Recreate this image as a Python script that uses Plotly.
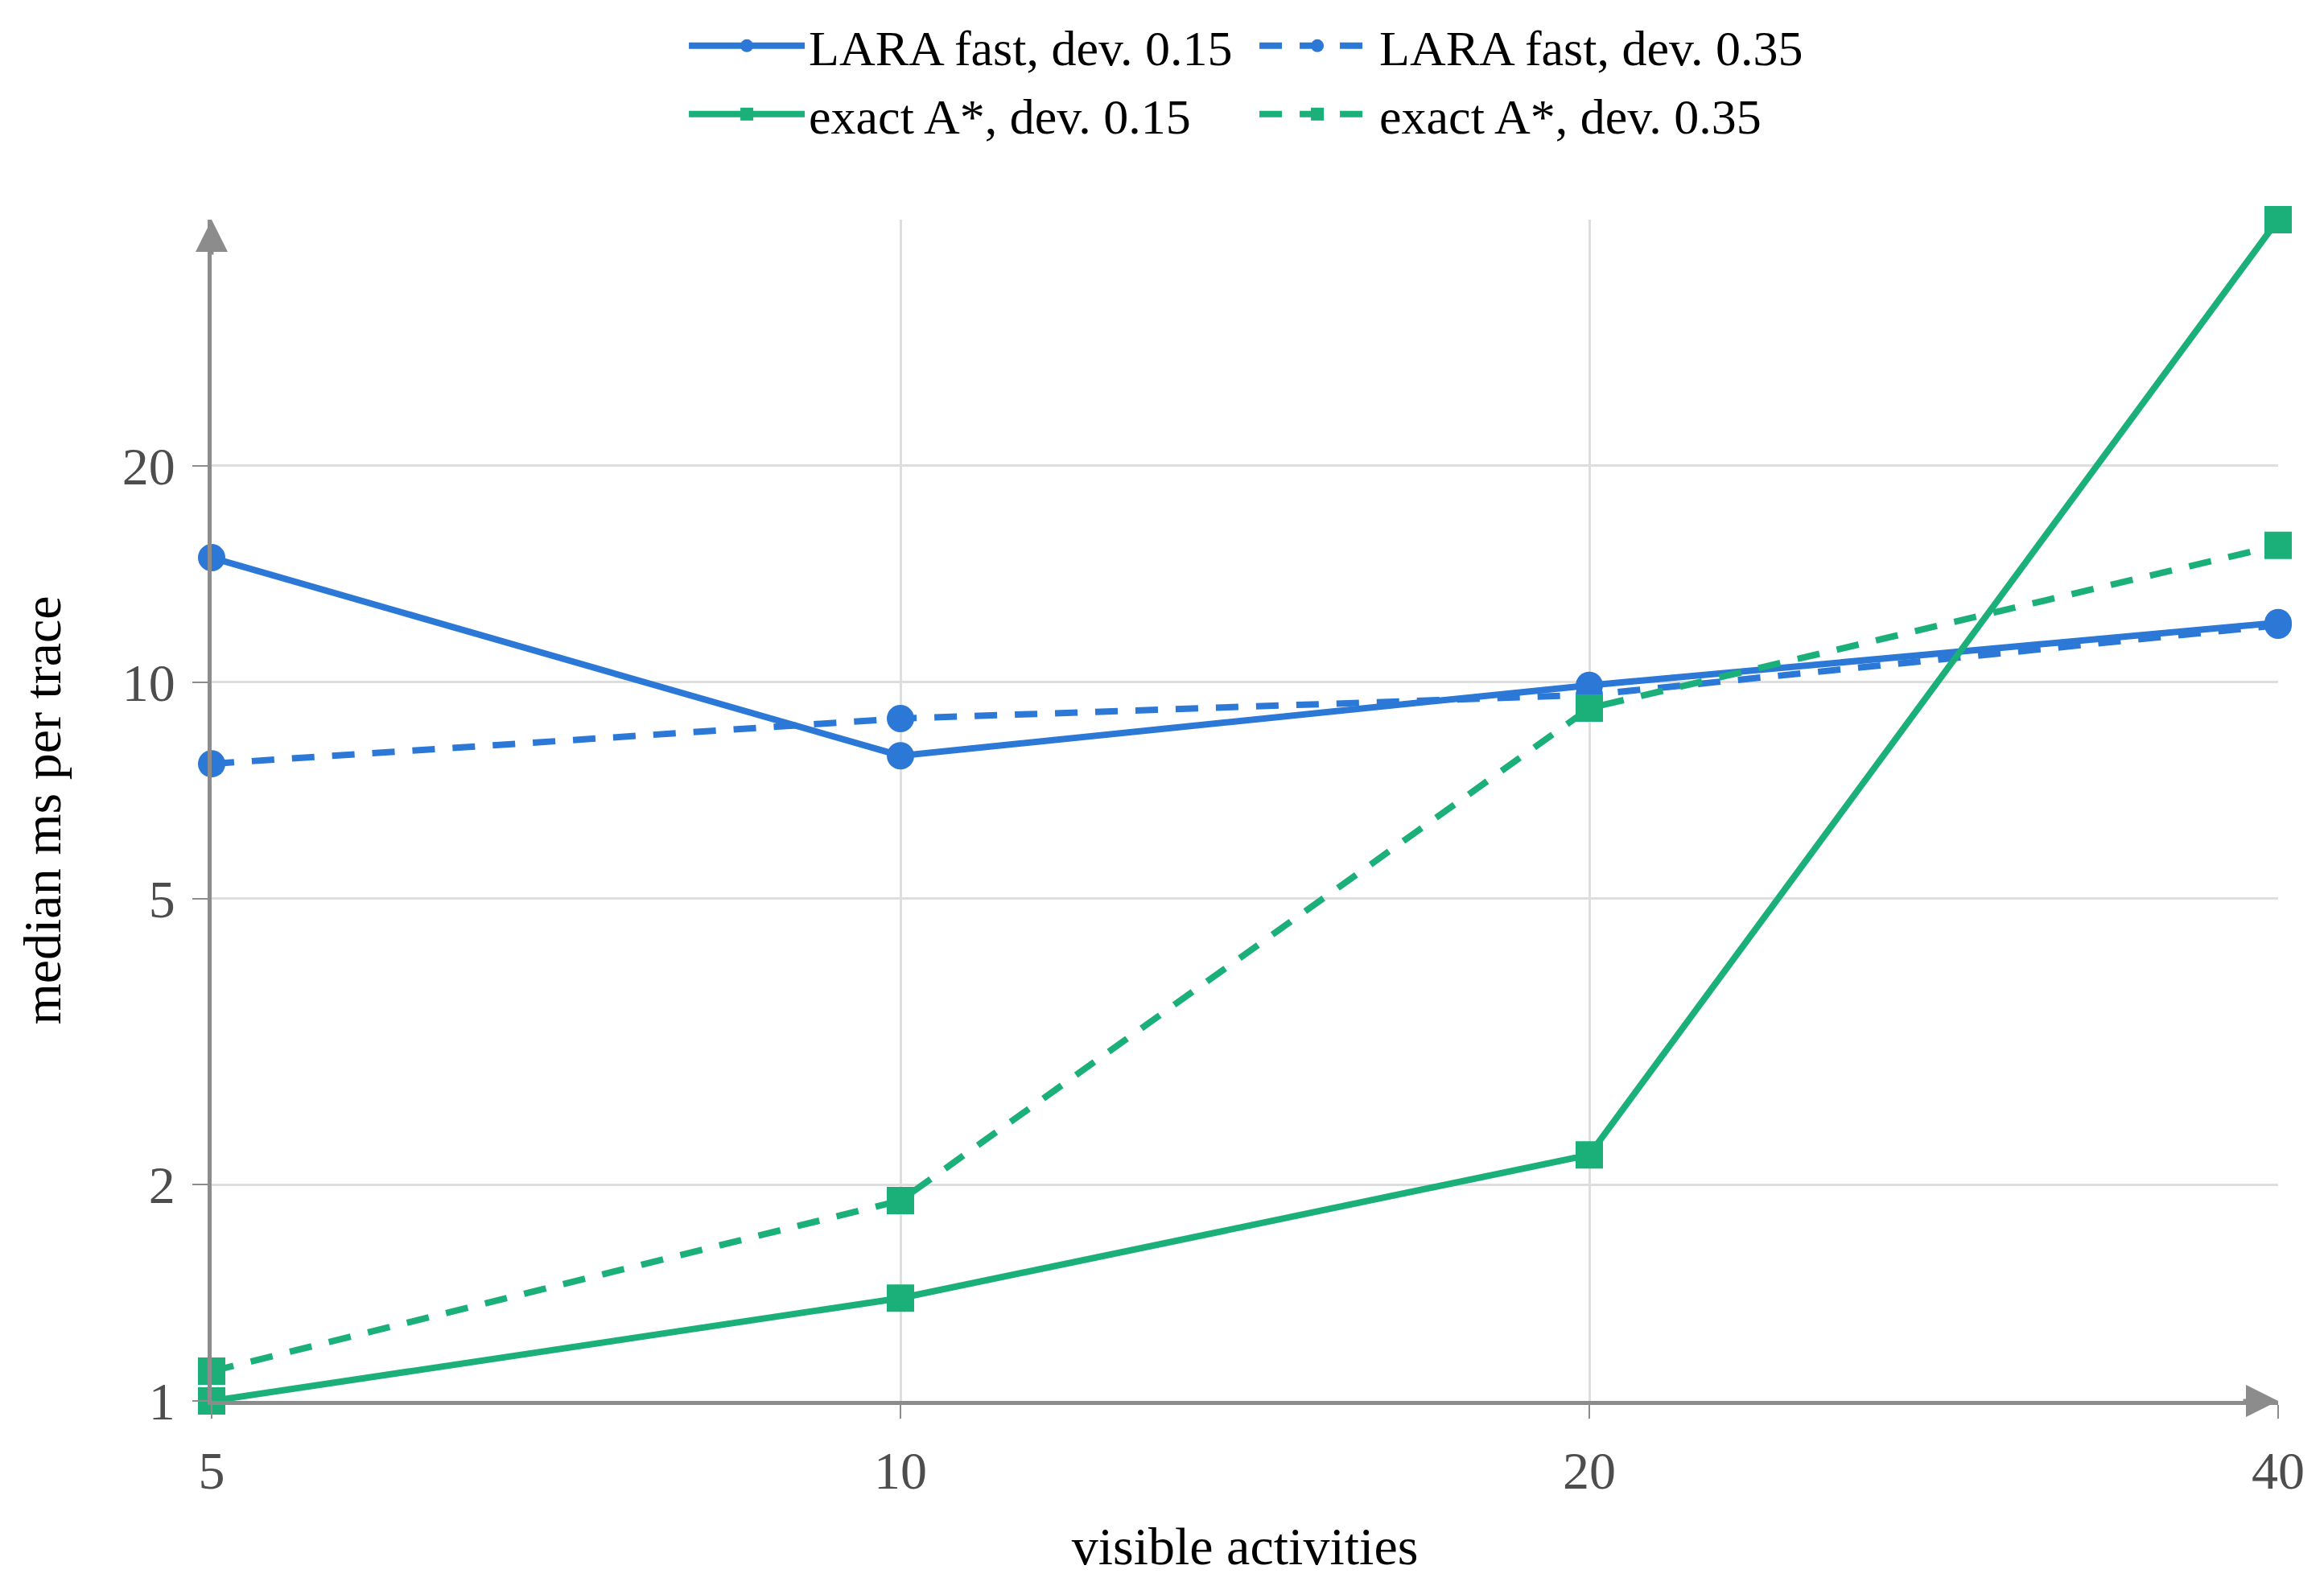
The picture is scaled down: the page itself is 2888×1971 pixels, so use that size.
import plotly.graph_objects as go
import math

activities = [5, 10, 20, 40]
lara_015 = [14.9, 7.9, 9.9, 12.1]
lara_035 = [7.7, 8.9, 9.6, 12.0]
astar_015 = [1.0, 1.39, 2.2, 44.0]
astar_035 = [1.10, 1.90, 9.2, 15.5]

x_ticks = [5, 10, 20, 40]
y_ticks = [1, 2, 5, 10, 20]

BLUE = "rgb(43,120,214)"
GREEN = "rgb(27,176,122)"
AXIS = "rgb(140,140,140)"
GRID = "rgb(222,222,222)"
TICKC = "rgb(77,77,77)"
FONT = "Liberation Serif"
FS_LEG = 62
FS_TICK = 66
FS_TITLE = 66

series = [
    ("LARA fast, dev. 0.15", lara_015, BLUE, "solid", "circle", "legend"),
    ("LARA fast, dev. 0.35", lara_035, BLUE, "28px,22px", "circle", "legend"),
    ("exact A*, dev. 0.15", astar_015, GREEN, "solid", "square", "legend2"),
    ("exact A*, dev. 0.35", astar_035, GREEN, "28px,22px", "square", "legend2"),
]

fig = go.Figure()
for name, vals, col, dash, sym, leg in series:
    fig.add_trace(go.Scatter(
        x=activities, y=vals, name=name, mode="lines+markers",
        line=dict(color=col, width=8, dash=dash),
        marker=dict(color=col, size=34, symbol=sym),
        cliponaxis=False, legend=leg,
    ))

ymax = max(max(s[1]) for s in series)
eps = 1e-6

leg_common = dict(orientation="h", x=0.229, xanchor="left", yanchor="middle",
                  yref="container", entrywidth=550, entrywidthmode="pixels",
                  font=dict(size=FS_LEG, family=FONT), itemwidth=144,
                  bgcolor="rgba(0,0,0,0)")

fig.update_layout(
    width=2888, height=1971,
    margin=dict(l=263, r=57, t=273, b=230),
    paper_bgcolor="white", plot_bgcolor="white",
    font=dict(family=FONT, size=FS_LEG, color="black"),
    legend=dict(y=1 - 57 / 1971, **leg_common),
    legend2=dict(y=1 - 142 / 1971, **leg_common),
    xaxis=dict(type="log",
               range=[math.log10(min(activities)) - eps, math.log10(max(activities)) + eps],
               tickvals=x_ticks, ticktext=[str(v) for v in x_ticks],
               showline=True, linecolor=AXIS, linewidth=5,
               showgrid=True, gridcolor=GRID, gridwidth=3,
               ticks="outside", ticklen=17, tickwidth=2, tickcolor=AXIS,
               tickfont=dict(color=TICKC, size=FS_TICK, family=FONT),
               ticklabelstandoff=8, zeroline=False,
               title=dict(text="visible activities", standoff=36,
                          font=dict(size=FS_TITLE, family=FONT, color="black"))),
    yaxis=dict(type="log", range=[0, math.log10(ymax) + eps],
               tickvals=y_ticks, ticktext=[str(v) for v in y_ticks],
               showline=True, linecolor=AXIS, linewidth=5,
               showgrid=True, gridcolor=GRID, gridwidth=3,
               ticks="outside", ticklen=19, tickwidth=2, tickcolor=AXIS,
               tickfont=dict(color=TICKC, size=FS_TICK, family=FONT),
               ticklabelstandoff=8, zeroline=False,
               title=dict(text="median ms per trace", standoff=56,
                          font=dict(size=FS_TITLE, family=FONT, color="black"))),
)

# arrowheads on axes
fig.add_annotation(x=0, y=1, xref="x domain", yref="y domain", ax=0, ay=45,
                   axref="pixel", ayref="pixel", showarrow=True, arrowhead=2,
                   arrowsize=1.6, arrowwidth=5, arrowcolor=AXIS, text="")
fig.add_annotation(x=1, y=0, xref="x domain", yref="y domain", ax=-45, ay=0,
                   axref="pixel", ayref="pixel", showarrow=True, arrowhead=2,
                   arrowsize=1.6, arrowwidth=5, arrowcolor=AXIS, text="")

fig.write_html("out.html")
